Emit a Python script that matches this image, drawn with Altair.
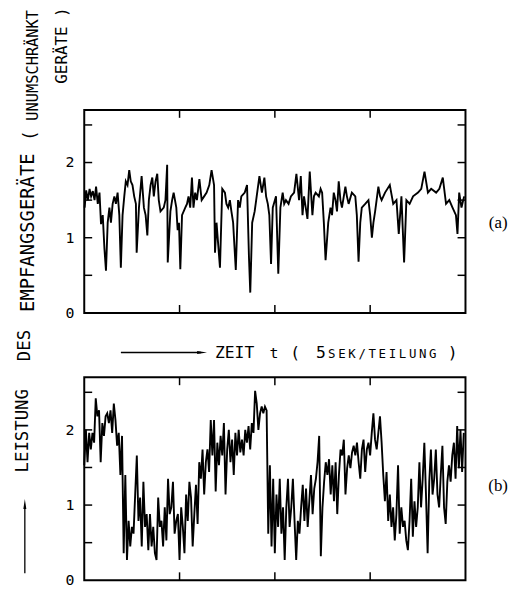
import altair as alt
import pandas as pd
import numpy as np

FONT = "DejaVu Sans Mono, Liberation Mono, monospace"
SERIF = "Liberation Serif, DejaVu Serif, serif"

# ---- panel (a): time (s) and received power ----
a_t = [0.02, 0.10, 0.19, 0.28, 0.36, 0.45, 0.54, 0.62, 0.71, 0.80, 0.88, 0.97, 1.06, 1.14, 1.23,
       1.32, 1.40, 1.49, 1.58, 1.66, 1.75, 1.84, 1.92, 2.01, 2.10, 2.18, 2.27, 2.36, 2.44, 2.53,
       2.62, 2.71, 2.75, 2.87, 3.01, 3.13, 3.22, 3.31, 3.39, 3.48, 3.57, 3.65, 3.74, 3.83, 3.91,
       4.00, 4.17, 4.26, 4.35, 4.38, 4.52, 4.61, 4.69, 4.83, 4.90, 4.97, 5.04, 5.13, 5.30, 5.39,
       5.47, 5.56, 5.65, 5.73, 5.82, 5.91, 6.04, 6.16, 6.29, 6.42, 6.56, 6.68, 6.81, 6.86, 6.94,
       7.03, 7.12, 7.24, 7.38, 7.46, 7.55, 7.64, 7.72, 7.81, 7.95, 8.07, 8.16, 8.24, 8.42, 8.54,
       8.64, 8.71, 8.81, 8.94, 9.02, 9.19, 9.32, 9.45, 9.54, 9.63, 9.71, 9.80, 9.89, 10.06, 10.18,
       10.29, 10.41, 10.49, 10.58, 10.72, 10.84, 11.01, 11.13, 11.27, 11.36, 11.45, 11.53, 11.62,
       11.71, 11.83, 11.97, 12.05, 12.14, 12.31, 12.40, 12.48, 12.57, 12.66, 12.80, 12.92, 13.00,
       13.09, 13.18, 13.26, 13.35, 13.44, 13.52, 13.70, 13.78, 13.87, 14.04, 14.22, 14.30, 14.39,
       14.48, 14.56, 14.74, 14.91, 15.00, 15.09, 15.17, 15.26, 15.43, 15.52, 15.60, 15.78, 16.03,
       16.21, 16.38, 16.50, 16.64, 16.78, 16.90, 17.07, 17.25, 17.51, 17.68, 17.85, 18.03, 18.20,
       18.46, 18.63, 18.81, 18.98, 19.15, 19.32, 19.50, 19.58, 19.67, 19.79, 19.93]
a_v = [1.40, 1.63, 1.50, 1.65, 1.55, 1.62, 1.50, 1.68, 1.45, 1.60, 1.18, 1.30, 0.85, 0.56, 1.20,
       1.40, 1.20, 1.45, 1.55, 1.45, 1.60, 1.30, 0.60, 1.30, 1.55, 1.75, 1.70, 1.90, 1.75, 1.70,
       1.55, 1.45, 0.80, 1.40, 1.82, 1.40, 1.30, 1.03, 1.50, 1.70, 1.80, 1.55, 1.75, 1.85, 1.50,
       1.35, 1.40, 1.50, 1.97, 0.67, 1.35, 1.50, 1.60, 1.40, 1.10, 1.20, 0.58, 1.30, 1.40, 1.45,
       1.55, 1.40, 1.80, 1.40, 1.60, 1.50, 1.78, 1.50, 1.55, 1.60, 1.70, 1.90, 1.70, 0.80, 1.20,
       0.90, 0.60, 1.65, 1.60, 1.45, 1.40, 1.50, 1.35, 1.20, 0.57, 1.50, 1.40, 1.55, 1.60, 1.70,
       0.75, 0.27, 1.20, 1.35, 1.50, 1.82, 1.60, 1.80, 1.55, 1.45, 1.30, 0.65, 1.40, 1.55, 0.52,
       1.40, 1.60, 1.45, 1.50, 1.45, 1.55, 1.60, 1.85, 1.50, 1.82, 1.30, 1.55, 1.40,
       1.25, 1.88, 1.30, 1.55, 1.60, 1.55, 1.65, 1.60, 1.20, 0.70, 1.20, 1.40, 1.30,
       1.60, 1.50, 1.35, 1.75, 1.50, 1.40, 1.68, 1.55, 1.45, 1.60, 1.55, 1.30, 0.68,
       1.20, 1.40, 1.45, 1.50, 1.30, 1.00, 1.20, 1.35, 1.68, 1.55, 1.50, 1.60, 1.70,
       1.45, 1.50, 1.05, 1.55, 0.67, 1.50, 1.45, 1.55, 1.60, 1.65, 1.88, 1.60, 1.65,
       1.60, 1.65, 1.80, 1.45, 1.50, 1.40, 1.30, 1.05, 1.60, 1.40, 1.55]

# ---- panel (b): received power sampled evenly over 0 .. 19.9 s ----
b_v = [1.53, 2.00, 1.57, 1.96, 1.74, 1.96, 1.83, 2.42, 2.18, 2.26, 1.57, 2.09, 1.92, 2.18, 2.22,
       2.09, 2.26, 1.96, 2.35, 2.13, 1.79, 1.96, 1.40, 1.92, 0.36, 1.40, 0.27, 0.79, 0.45, 0.71,
       0.62, 1.14, 1.66, 0.79, 1.10, 0.45, 1.31, 0.71, 0.88, 0.40, 0.88, 0.45, 0.71, 0.36, 0.27,
       1.10, 0.71, 0.79, 0.45, 0.97, 0.53, 1.35, 0.88, 0.97, 1.31, 0.62, 0.79, 0.88, 0.27, 0.97,
       0.71, 0.36, 1.14, 0.79, 1.31, 1.10, 0.45, 0.88, 1.27, 0.75, 1.57, 1.35, 1.74, 1.14, 1.57,
       1.74, 1.44, 2.13, 1.66, 2.13, 1.18, 1.83, 1.53, 1.92, 1.66, 2.09, 1.14, 1.74, 2.00, 1.57,
       1.87, 1.40, 1.96, 1.66, 2.00, 1.70, 1.87, 1.66, 2.00, 1.83, 2.05, 1.74, 2.09, 1.96, 2.52,
       2.35, 2.00, 2.22, 2.31, 2.22, 2.31, 2.26, 0.62, 1.53, 0.45, 1.35, 0.36, 1.14, 0.71, 1.35,
       0.62, 0.97, 0.27, 0.97, 1.35, 0.71, 0.97, 1.35, 0.79, 0.27, 0.79, 0.62, 0.97, 1.27, 0.79,
       1.22, 0.71, 1.05, 1.40, 0.88, 1.22, 1.35, 1.57, 1.92, 0.32, 0.97, 1.31, 1.57, 1.40, 1.61,
       1.14, 1.53, 1.05, 1.57, 0.88, 1.40, 1.74, 1.66, 1.87, 1.14, 1.49, 1.66, 1.49, 1.70, 1.79,
       1.66, 1.83, 1.57, 1.35, 1.74, 1.87, 1.44, 1.74, 1.83, 1.66, 1.96, 2.22, 1.87, 1.74, 1.96,
       2.18, 1.83, 1.40, 1.05, 1.44, 0.79, 1.14, 0.71, 0.97, 0.53, 0.88, 1.53, 0.62, 0.97, 0.71,
       0.79, 0.53, 0.40, 0.79, 1.35, 0.58, 1.05, 0.71, 0.97, 1.57, 0.97, 1.35, 1.83, 1.14, 0.36,
       1.31, 1.74, 1.14, 1.35, 1.74, 1.14, 0.97, 1.40, 1.79, 0.97, 0.75, 1.31, 1.53, 1.31, 1.66,
       1.83, 1.35, 2.05, 1.49, 2.00, 1.44, 1.96]
b_t = np.linspace(0, 19.91, len(b_v))

y_ticks = [0.5, 1, 1.5, 2, 2.5]
y_labels = [0, 1, 2]
x_ticks = [5, 10, 15]

W, H = 385, 205
YMAX = 2.7
TK = 8

xs = alt.Scale(domain=[0, 20], nice=False, zero=False)
ys = alt.Scale(domain=[0, YMAX], nice=False, zero=False)


def txt(s, x, y, size, font=FONT, angle=0, align="left", baseline="alphabetic"):
    return alt.Chart(pd.DataFrame({"s": [s]})).mark_text(
        font=font, fontSize=size, angle=angle, align=align, baseline=baseline, color="black"
    ).encode(x=alt.value(x), y=alt.value(y), text="s:N")


def panel(t, v, extra):
    df = pd.DataFrame({"t": t, "v": v})
    line = alt.Chart(df).mark_line(color="black", strokeWidth=1.9).encode(
        x=alt.X("t:Q", scale=xs, axis=None),
        y=alt.Y("v:Q", scale=ys, axis=None),
    )
    yt = pd.DataFrame({"v": y_ticks})
    xt = pd.DataFrame({"t": x_ticks})
    yl = pd.DataFrame({"v": y_labels})
    rule = dict(color="black", strokeWidth=1.5)
    lt = alt.Chart(yt).mark_rule(**rule).encode(y=alt.Y("v:Q", scale=ys, axis=None), x=alt.value(0), x2=alt.value(TK))
    rt = alt.Chart(yt).mark_rule(**rule).encode(y=alt.Y("v:Q", scale=ys, axis=None), x=alt.value(W - TK), x2=alt.value(W))
    tt = alt.Chart(xt).mark_rule(**rule).encode(x=alt.X("t:Q", scale=xs, axis=None), y=alt.value(0), y2=alt.value(TK))
    bt = alt.Chart(xt).mark_rule(**rule).encode(x=alt.X("t:Q", scale=xs, axis=None), y=alt.value(H - TK), y2=alt.value(H))
    labels = alt.Chart(yl).mark_text(font=FONT, fontSize=15, align="right", baseline="middle", color="black").encode(
        y=alt.Y("v:Q", scale=ys, axis=None), x=alt.value(-10), text=alt.Text("v:Q", format="d"))
    return alt.layer(line, lt, rt, tt, bt, labels, *extra).properties(width=W, height=H)


arrow_right = "M-1,-0.3L1,0L-1,0.3Z"
arrow_up = "M-0.3,1L0,-1L0.3,1Z"

title_words = [
    ("LEISTUNG", -61.5, 324, 17.5),
    ("DES", -60, 238, 17.5),
    ("EMPFANGSGERÄTE", -57, 124, 19),
    ("(", -54, 26, 17.5),
    ("UNUMSCHRÄNKT", -52, -45, 15.5),
    ("GERÄTE )", -22, -65, 16),
]

extra_a = [txt("(a)", 418, 119, 17, font=SERIF, align="center")]
extra_a += [txt(w, x, y, s, angle=270, align="center", baseline="middle") for w, x, y, s in title_words]
extra_a += [
    alt.Chart(pd.DataFrame({"s": [0]})).mark_rule(color="black", strokeWidth=1.3).encode(
        x=alt.value(37), x2=alt.value(118), y=alt.value(245)),
    alt.Chart(pd.DataFrame({"s": [0]})).mark_point(shape=arrow_right, filled=True, color="black", size=100, opacity=1).encode(
        x=alt.value(119), y=alt.value(245)),
    txt("ZEIT", 132, 251, 16.5),
    txt("t", 187, 251, 15),
    txt("(", 208, 251, 16.5),
    txt("5", 234, 251, 16.5),
    txt(")", 372, 251, 16.5, align="center"),
]
extra_a += [txt(ch, 250 + 10.2 * i, 251, 12.5, align="center") for i, ch in enumerate("SEK/TEILUNG")]

extra_b = [
    txt("(b)", 418, 115, 17, font=SERIF, align="center"),
    alt.Chart(pd.DataFrame({"s": [0]})).mark_rule(color="black", strokeWidth=1.3).encode(
        x=alt.value(-60), y=alt.value(130), y2=alt.value(198)),
    alt.Chart(pd.DataFrame({"s": [0]})).mark_point(shape=arrow_up, filled=True, color="black", size=100, opacity=1).encode(
        x=alt.value(-60), y=alt.value(128)),
]

pa = panel(a_t, a_v, extra_a)
pb = panel(b_t, b_v, extra_b)

chart = alt.vconcat(pa, pb, spacing=65, bounds="flush").properties(
    padding={"left": 5, "top": -5, "right": 5, "bottom": 5}
).configure_view(stroke="black", strokeWidth=2)

chart.save("out.html", embed_options={"renderer": "svg", "actions": False})
